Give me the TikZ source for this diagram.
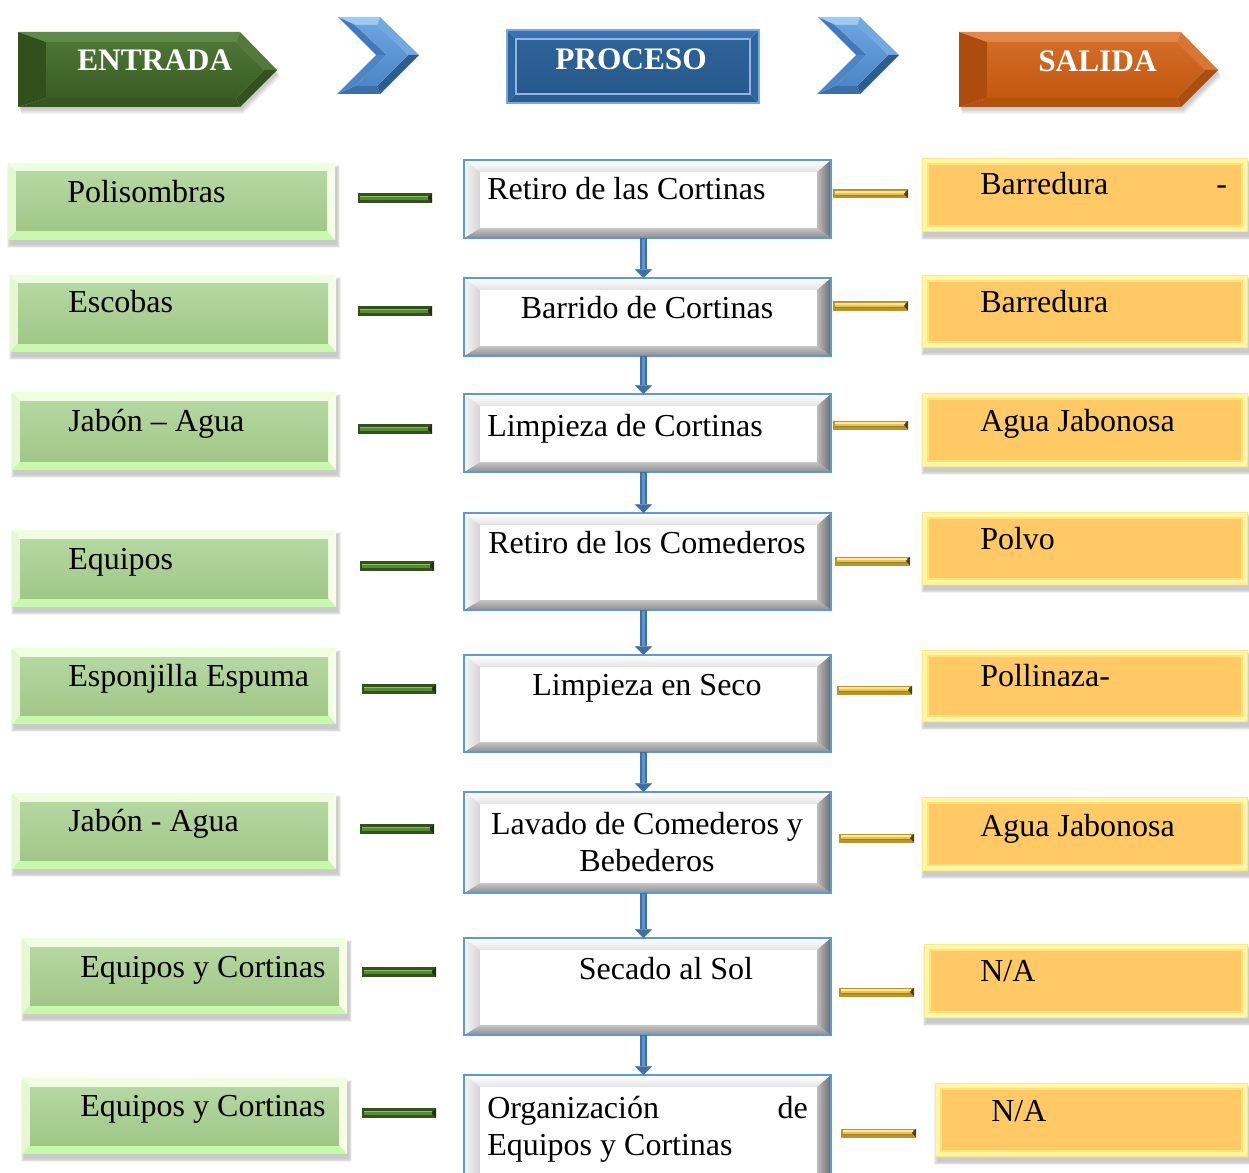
\documentclass[tikz,border=0pt]{standalone}
\usepackage{fontspec}
\setmainfont{Liberation Serif}
\usetikzlibrary{calc,fit,arrows.meta}

% ---------- colours ----------
\definecolor{entT}{HTML}{EFFDE1}
\definecolor{entL}{HTML}{E6F8D3}
\definecolor{entR}{HTML}{F4FFE6}
\definecolor{entB}{HTML}{C8F9AA}
\definecolor{entFaceTop}{HTML}{B6D7A2}
\definecolor{entFaceBot}{HTML}{A0C787}
\definecolor{procEdge}{HTML}{5B9BD5}
\definecolor{procTopIn}{HTML}{E4E4E4}
\definecolor{procLOut}{HTML}{F6F6F6}
\definecolor{procLIn}{HTML}{D4D4D4}
\definecolor{procRIn}{HTML}{BDBDBD}
\definecolor{procROut}{HTML}{6A6A6A}
\definecolor{procBIn}{HTML}{C6C6C6}
\definecolor{procBOut}{HTML}{8C8C8C}
\definecolor{outFace}{HTML}{FFC966}
\definecolor{outFrame}{HTML}{FFF7A6}
\definecolor{outEdge}{HTML}{FFE98A}
\definecolor{outInner}{HTML}{FFE27A}
\definecolor{gbarDark}{HTML}{33501D}
\definecolor{gbarMid}{HTML}{558C33}
\definecolor{gbarHi}{HTML}{86C255}
\definecolor{ybarEdge}{HTML}{B8942A}
\definecolor{ybarMid}{HTML}{EBC24E}
\definecolor{ybarHi}{HTML}{FFEB95}
\definecolor{ybarLow}{HTML}{9A7F2E}
\definecolor{ybarTip}{HTML}{4F4019}
\definecolor{flowDark}{HTML}{3F6FA5}
\definecolor{flowLight}{HTML}{5E93D3}
% header colours
\definecolor{inT}{HTML}{5E8947}
\definecolor{inRU}{HTML}{52793B}
\definecolor{inRD}{HTML}{32521F}
\definecolor{inB}{HTML}{365620}
\definecolor{inL}{HTML}{30501C}
\definecolor{inFaceTop}{HTML}{4D7535}
\definecolor{inFaceMid}{HTML}{426A2C}
\definecolor{inFaceBot}{HTML}{3A5C24}
\definecolor{outT}{HTML}{E4884A}
\definecolor{outRU}{HTML}{D97635}
\definecolor{outRD}{HTML}{AC4E0E}
\definecolor{outB}{HTML}{B45210}
\definecolor{outL}{HTML}{AE4C0D}
\definecolor{outFaceTop}{HTML}{D26C27}
\definecolor{outFaceMid}{HTML}{C95F17}
\definecolor{outFaceBot}{HTML}{C25810}
\definecolor{hdrT}{HTML}{3673B0}
\definecolor{hdrS}{HTML}{2C66A2}
\definecolor{hdrB}{HTML}{275D95}
\definecolor{hdrFaceTop}{HTML}{2E6398}
\definecolor{hdrFaceMid}{HTML}{1F4D7A}
\definecolor{hdrFaceBot}{HTML}{28598C}
\definecolor{hdrLine}{HTML}{8FB5E0}
\definecolor{hdrEdge}{HTML}{80A8D5}
\definecolor{chevT}{HTML}{9ECAF3}
\definecolor{chevRU}{HTML}{74A8DE}
\definecolor{chevRD}{HTML}{2D5C91}
\definecolor{chevB}{HTML}{3A6FA9}
\definecolor{chevLL}{HTML}{4E86C5}
\definecolor{chevLU}{HTML}{4179B9}
\definecolor{chevFaceTop}{HTML}{6AA3DF}
\definecolor{chevFaceBot}{HTML}{4C86C6}

\tikzset{
  boxfit/.style={inner sep=0pt, outer sep=0pt, draw=none, rectangle},
  lbl/.style={inner sep=0pt, font=\fontsize{24}{28}\selectfont, text=black},
  hdrlbl/.style={inner sep=0pt, font=\bfseries\fontsize{23.5}{28}\selectfont, text=white},
  % input boxes
  entryT/.style={fill=entT}, entryL/.style={fill=entL},
  entryR/.style={fill=entR}, entryB/.style={fill=entB},
  entryF/.style={top color=entFaceTop, bottom color=entFaceBot},
  % process boxes
  procT/.style={top color=white, bottom color=procTopIn},
  procL/.style={left color=procLOut, right color=procLIn},
  procR/.style={left color=procRIn, right color=procROut},
  procB/.style={top color=procBIn, bottom color=procBOut},
  procF/.style={fill=white},
  procedge/.style={draw=procEdge, line width=1.5pt},
  % output boxes
  outpT/.style={fill=outFrame}, outpL/.style={fill=outFrame},
  outpR/.style={fill=outFrame}, outpB/.style={fill=outFrame},
  outpF/.style={fill=outFace},
  outpedge/.style={draw=outEdge, line width=0.8pt},
  outpinner/.style={draw=outInner, line width=0.8pt},
  % header box
  hdrT/.style={fill=hdrT}, hdrL/.style={fill=hdrS},
  hdrR/.style={fill=hdrS}, hdrB/.style={fill=hdrB},
  hdrF/.style={top color=hdrFaceTop, middle color=hdrFaceMid, bottom color=hdrFaceBot},
  % bars
  gbarA/.style={draw=gbarDark, line width=7.5pt},
  gbarB/.style={draw=gbarMid, line width=3.4pt},
  gbarC/.style={draw=gbarHi, line width=1.1pt},
  ybarA/.style={draw=ybarEdge, line width=6.75pt},
  ybarB/.style={draw=ybarMid, line width=3.6pt},
  ybarC/.style={draw=ybarHi, line width=1.1pt},
  ybarD/.style={draw=ybarLow, line width=0.8pt},
  % flow arrows
  flowarrow/.style={draw=flowDark, line width=5pt,
    -{Triangle[width=13pt,length=6.5pt,line width=0.4pt]}},
  flowcore/.style={draw=flowLight, line width=2pt},
}

% soft shadow under a rectangle
\newcommand\dropshadow[4]{%
  \foreach \s in {0,...,4}{%
    \fill[black,opacity=0.045] (#1+2-0.8*\s,#2+5-0.8*\s) rectangle (#3+2+0.8*\s,#4+5+0.8*\s);}%
}

% bevelled rectangle: node, left, top, right, bottom widths, style prefix
\newcommand\bevelbox[6]{%
  \path[#6T] (#1.north west) -- (#1.north east) -- ($(#1.north east)+(-#4,#3)$) -- ($(#1.north west)+(#2,#3)$) -- cycle;
  \path[#6B] (#1.south west) -- (#1.south east) -- ($(#1.south east)+(-#4,-#5)$) -- ($(#1.south west)+(#2,-#5)$) -- cycle;
  \path[#6L] (#1.north west) -- ($(#1.north west)+(#2,#3)$) -- ($(#1.south west)+(#2,-#5)$) -- (#1.south west) -- cycle;
  \path[#6R] (#1.north east) -- ($(#1.north east)+(-#4,#3)$) -- ($(#1.south east)+(-#4,-#5)$) -- (#1.south east) -- cycle;
  \path[#6F] ($(#1.north west)+(#2,#3)$) rectangle ($(#1.south east)+(-#4,-#5)$);
}

% input box: name, x1, y1, x2, y2, text x, baseline, text
\newcommand\entrybox[8]{%
  \dropshadow{#2}{#3}{#4}{#5}
  \path (#2,#3) coordinate (#1-nw) (#4,#5) coordinate (#1-se);
  \node[boxfit, fit=(#1-nw)(#1-se)] (#1) {};
  \bevelbox{#1}{8}{9}{8}{9}{entry}
  \node[lbl, anchor=base west] (#1-t) at (#6,#7) {#8};
}

% process box: name, top, bottom
\newcommand\procbox[3]{%
  \path (464,#2) coordinate (#1-nw) (831,#3) coordinate (#1-se);
  \node[boxfit, fit=(#1-nw)(#1-se)] (#1) {};
  \bevelbox{#1}{16}{12}{14}{10}{proc}
  \draw[procedge] (#1.north west) rectangle (#1.south east);
}

% output box: name, x1, y1, x2, y2
\newcommand\outbox[5]{%
  \dropshadow{#2}{#3}{#4}{#5}
  \path (#2,#3) coordinate (#1-nw) (#4,#5) coordinate (#1-se);
  \node[boxfit, fit=(#1-nw)(#1-se)] (#1) {};
  \bevelbox{#1}{6}{6}{6}{6}{outp}
  \draw[outpedge] ($(#1.north west)+(0.5,0.5)$) rectangle ($(#1.south east)+(-0.5,-0.5)$);
  \draw[outpinner] ($(#1.north west)+(6,6)$) rectangle ($(#1.south east)+(-6,-6)$);
}

% green bar: name, x1, x2, y
\newcommand\greenbar[4]{%
  \path (#2,#4) coordinate (#1-a) (#3,#4) coordinate (#1-b);
  \draw[gbarA] (#1-a) -- (#1-b);
  \draw[gbarB] ($(#1-a)+(2,0)$) -- ($(#1-b)+(-4,0)$);
  \draw[gbarC] ($(#1-a)+(2,-1.3)$) -- ($(#1-b)+(-4,-1.3)$);
  \fill[gbarDark!60!black] ($(#1-b)+(0,-5)$) -- ($(#1-b)+(0,5)$) -- ($(#1-b)+(-4,0)$) -- cycle;
}

% gold bar: name, x1, x2, y
\newcommand\goldbar[4]{%
  \path (#2,#4) coordinate (#1-a) (#3,#4) coordinate (#1-b);
  \draw[ybarA] (#1-a) -- (#1-b);
  \draw[ybarB] ($(#1-a)+(1.5,0)$) -- ($(#1-b)+(-3,0)$);
  \draw[ybarC] ($(#1-a)+(1.5,-2)$) -- ($(#1-b)+(-3,-2)$);
  \draw[ybarD] ($(#1-a)+(1.5,1.5)$) -- ($(#1-b)+(-3,1.5)$);
  \fill[ybarTip] ($(#1-b)+(0,-4.5)$) -- ($(#1-b)+(0,4.5)$) -- ($(#1-b)+(-4,0)$) -- cycle;
}

% header pentagon arrow: prefix, x offset
\newcommand\hdrarrow[2]{%
  \path (18+#2,32) coordinate (#1-1) (240+#2,32) coordinate (#1-2) (277+#2,70) coordinate (#1-3)
        (240+#2,107) coordinate (#1-4) (18+#2,107) coordinate (#1-5)
        (46+#2,42) coordinate (#1-i1) (236+#2,42) coordinate (#1-i2) (264+#2,70) coordinate (#1-i3)
        (236+#2,98) coordinate (#1-i4) (46+#2,98) coordinate (#1-i5);
  \foreach \s in {1,...,4}{%
    \fill[black,opacity=0.055] ([shift={(1+0.5*\s,1+1.5*\s)}]#1-1) -- ([shift={(1+0.5*\s,1+1.5*\s)}]#1-2)
      -- ([shift={(1+0.5*\s,1+1.5*\s)}]#1-3) -- ([shift={(1+0.5*\s,1+1.5*\s)}]#1-4)
      -- ([shift={(1+0.5*\s,1+1.5*\s)}]#1-5) -- cycle;}
  \fill[#1T]  (#1-1) -- (#1-2) -- (#1-i2) -- (#1-i1) -- cycle;
  \fill[#1RU] (#1-2) -- (#1-3) -- (#1-i3) -- (#1-i2) -- cycle;
  \fill[#1RD] (#1-3) -- (#1-4) -- (#1-i4) -- (#1-i3) -- cycle;
  \fill[#1B]  (#1-4) -- (#1-5) -- (#1-i5) -- (#1-i4) -- cycle;
  \fill[#1L]  (#1-5) -- (#1-1) -- (#1-i1) -- (#1-i5) -- cycle;
  \shade[top color=#1FaceTop, middle color=#1FaceMid, bottom color=#1FaceBot] (#1-i1) -- (#1-i2) -- (#1-i3) -- (#1-i4) -- (#1-i5) -- cycle;
}

% blue chevron: prefix, x offset
\newcommand\chevron[2]{%
  \path (338+#2,17) coordinate (#1-1) (380+#2,17) coordinate (#1-2) (419+#2,55) coordinate (#1-3)
        (380+#2,94) coordinate (#1-4) (337+#2,94) coordinate (#1-5) (376+#2,55) coordinate (#1-6)
        (355+#2,25) coordinate (#1-i1) (377+#2,25) coordinate (#1-i2) (408+#2,55) coordinate (#1-i3)
        (377+#2,86) coordinate (#1-i4) (355+#2,86) coordinate (#1-i5) (387+#2,55) coordinate (#1-i6);
  \fill[chevT]  (#1-1) -- (#1-2) -- (#1-i2) -- (#1-i1) -- cycle;
  \fill[chevRU] (#1-2) -- (#1-3) -- (#1-i3) -- (#1-i2) -- cycle;
  \fill[chevRD] (#1-3) -- (#1-4) -- (#1-i4) -- (#1-i3) -- cycle;
  \fill[chevB]  (#1-4) -- (#1-5) -- (#1-i5) -- (#1-i4) -- cycle;
  \fill[chevLL] (#1-5) -- (#1-6) -- (#1-i6) -- (#1-i5) -- cycle;
  \fill[chevLU] (#1-6) -- (#1-1) -- (#1-i1) -- (#1-i6) -- cycle;
  \shade[top color=chevFaceTop, bottom color=chevFaceBot] (#1-i1) -- (#1-i2) -- (#1-i3) -- (#1-i4) -- (#1-i5) -- (#1-i6) -- cycle;
}

\begin{document}
\begin{tikzpicture}[x=0.75pt,y=-0.75pt]
\useasboundingbox (0,0) rectangle (1249,1173);
\clip (0,0) rectangle (1249,1173);
\fill[white] (0,0) rectangle (1249,1173);

% ---------- header row ----------
\hdrarrow{in}{0}
\node[hdrlbl, anchor=base west] (hin) at (77,71) {ENTRADA};

\chevron{cv1}{0}

\path (507,30) coordinate (hp-nw) (759,103) coordinate (hp-se);
\node[boxfit, fit=(hp-nw)(hp-se)] (hp) {};
\bevelbox{hp}{9}{9}{9}{9}{hdr}
\draw[draw=hdrLine, line width=0.9pt] ($(hp.north west)+(9,9)$) rectangle ($(hp.south east)+(-9,-9)$);
\draw[draw=hdrEdge, line width=1pt] (hp.north west) rectangle (hp.south east);
\node[hdrlbl, anchor=base west] (hproc) at (555,70) {PROCESO};

\chevron{cv2}{480}

\hdrarrow{out}{941}
\node[hdrlbl, anchor=base west] (hout) at (1038,72) {SALIDA};

% ---------- inputs ----------
\entrybox{e1}{8}{163}{335}{240}{67}{203}{Polisombras}
\entrybox{e2}{10}{275}{336}{352}{68}{312}{Escobas}
\entrybox{e3}{12}{392}{336}{470}{68}{431}{Jabón – Agua}
\entrybox{e4}{12}{530}{336}{607}{68}{569}{Equipos}
\entrybox{e5}{12}{648}{336}{724}{68}{686}{Esponjilla Espuma}
\entrybox{e6}{12}{793}{336}{869}{68}{831}{Jabón - Agua}
\entrybox{e7}{22}{938}{347}{1014}{80}{977}{Equipos y Cortinas}
\entrybox{e8}{22}{1078}{347}{1154}{80}{1116}{Equipos y Cortinas}

\greenbar{g1}{358}{432}{198}
\greenbar{g2}{358}{432}{311}
\greenbar{g3}{358}{432}{429}
\greenbar{g4}{360}{434}{566}
\greenbar{g5}{362}{436}{689}
\greenbar{g6}{360}{434}{829}
\greenbar{g7}{362}{436}{972}
\greenbar{g8}{362}{436}{1113}

% ---------- process steps ----------
\procbox{p1}{160}{238}
\procbox{p2}{278}{356}
\procbox{p3}{394}{472}
\procbox{p4}{513}{610}
\procbox{p5}{655}{752}
\procbox{p6}{792}{893}
\procbox{p7}{938}{1035}
\procbox{p8}{1075}{1185}

\node[lbl, anchor=base west] (p1-t) at (487,200) {Retiro de las Cortinas};
\node[lbl, anchor=base] (p2-t) at (647,318) {Barrido de Cortinas};
\node[lbl, anchor=base west] (p3-t) at (487,436) {Limpieza de Cortinas};
\node[lbl, anchor=base] (p4-t) at (647,553) {Retiro de los Comederos};
\node[lbl, anchor=base] (p5-t) at (647,695) {Limpieza en Seco};
\node[lbl, anchor=base] (p6-t) at (647,834) {Lavado de Comederos y};
\node[lbl, anchor=base] (p6-u) at (647,871) {Bebederos};
\node[lbl, anchor=base] (p7-t) at (666,979) {Secado al Sol};
\node[lbl, anchor=base west] (p8-t) at (487,1118) {Organización};
\node[lbl, anchor=base east] (p8-r) at (808,1118) {de};
\node[lbl, anchor=base west] (p8-u) at (487,1155) {Equipos y Cortinas};

\foreach \a/\b in {p1/p2,p2/p3,p3/p4,p4/p5,p5/p6,p6/p7,p7/p8}{%
  \draw[flowarrow] ($(\a.south)+(-4,0)$) -- ($(\b.north)+(-4,0)$);
  \draw[flowcore] ($(\a.south)+(-4,1)$) -- ($(\b.north)+(-4,-9)$);
}

% ---------- outputs ----------
\goldbar{y1}{833}{908}{194}
\goldbar{y2}{833}{908}{306}
\goldbar{y3}{833}{908}{425}
\goldbar{y4}{835}{910}{561}
\goldbar{y5}{837}{912}{690}
\goldbar{y6}{839}{914}{838}
\goldbar{y7}{839}{914}{992}
\goldbar{y8}{841}{916}{1133}

\outbox{o1}{922}{158}{1248}{232}
\outbox{o2}{922}{275}{1248}{348}
\outbox{o3}{922}{393}{1248}{467}
\outbox{o4}{922}{512}{1248}{585}
\outbox{o5}{922}{650}{1248}{722}
\outbox{o6}{922}{797}{1248}{871}
\outbox{o7}{924}{944}{1248}{1018}
\outbox{o8}{935}{1083}{1248}{1157}

\node[lbl, anchor=base west] (o1-t) at (980,195) {Barredura};
\node[lbl, anchor=base west] (o1-d) at (1216,195) {-};
\node[lbl, anchor=base west] (o2-t) at (980,312) {Barredura};
\node[lbl, anchor=base west] (o3-t) at (980,431) {Agua Jabonosa};
\node[lbl, anchor=base west] (o4-t) at (980,549) {Polvo};
\node[lbl, anchor=base west] (o5-t) at (980,686) {Pollinaza-};
\node[lbl, anchor=base west] (o6-t) at (980,836) {Agua Jabonosa};
\node[lbl, anchor=base west] (o7-t) at (980,981) {N/A};
\node[lbl, anchor=base west] (o8-t) at (991,1121) {N/A};
\end{tikzpicture}
\end{document}
